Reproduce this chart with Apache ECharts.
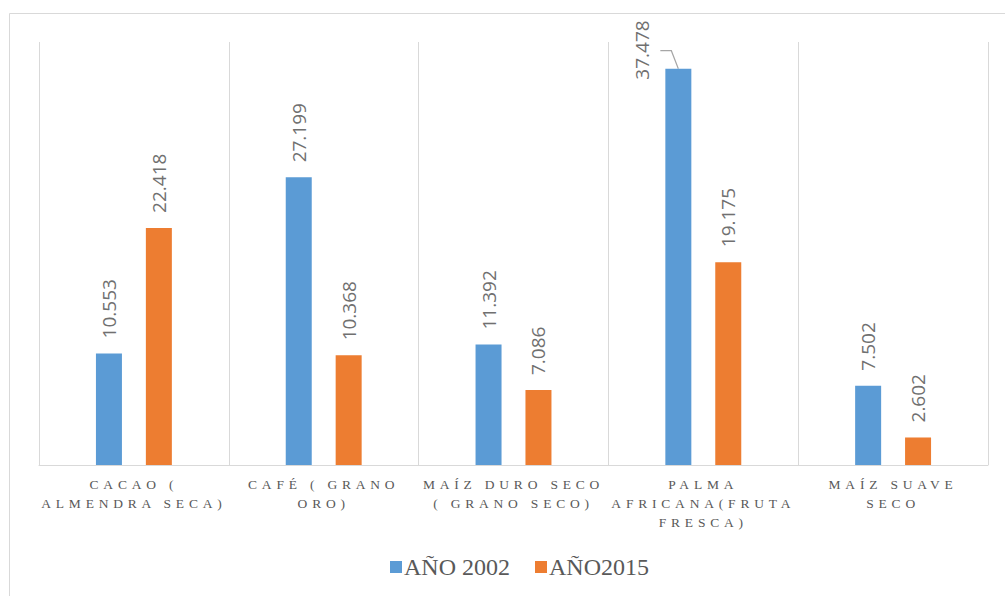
<!DOCTYPE html>
<html>
<head>
<meta charset="utf-8">
<script src="https://cdn.jsdelivr.net/npm/echarts@6/dist/echarts.min.js"></script>
<style>
html,body{margin:0;padding:0;background:#fff;}
#chart{width:1005px;height:596px;}
#chart svg text[style*="13.5px"]{letter-spacing:4.8px;}
</style>
</head>
<body>
<div id="chart"></div>
<script>
const categories = [
  "CACAO (\nALMENDRA SECA)",
  "CAFÉ ( GRANO\nORO)",
  "MAÍZ DURO SECO\n( GRANO SECO)",
  "PALMA\nAFRICANA(FRUTA\nFRESCA)",
  "MAÍZ SUAVE\nSECO"
];
const seriesNames = ["AÑO 2002", "AÑO2015"];
const values2002 = [10.553, 27.199, 11.392, 37.478, 7.502];
const values2015 = [22.418, 10.368, 7.086, 19.175, 2.602];
const movedLabelIndex = 3;

const chart = echarts.init(document.getElementById('chart'), null, {renderer: 'svg'});

const labelStyle = {
  show: true,
  position: 'top',
  rotate: 90,
  align: 'left',
  verticalAlign: 'middle',
  distance: 15,
  color: '#707070',
  fontFamily: 'Open Sans',
  fontSize: 19,
  formatter: p => p.value.toFixed(3)
};

const frame = {
  type: 'rect',
  shape: {x: 9.5, y: 13.5, width: 1200, height: 800},
  style: {fill: 'none', stroke: '#d9d9d9', lineWidth: 1},
  silent: true
};

chart.setOption({
  animation: false,
  backgroundColor: '#fff',
  graphic: [frame],
  grid: {left: 39, right: 17, top: 42, bottom: 131},
  legend: {
    bottom: 12,
    left: 385,
    itemWidth: 12,
    itemHeight: 12,
    itemGap: 25,
    icon: 'rect',
    textStyle: {fontFamily: 'Liberation Serif', fontSize: 24, color: '#595959', padding: [0, 0, 0, -3]},
    data: seriesNames
  },
  xAxis: {
    type: 'category',
    data: categories,
    axisLine: {lineStyle: {color: '#d9d9d9', width: 1}},
    axisTick: {show: false},
    splitLine: {show: true, lineStyle: {color: '#d9d9d9', width: 1}},
    axisLabel: {
      interval: 0,
      margin: 10,
      fontFamily: 'Liberation Serif',
      fontSize: 13.5,
      lineHeight: 19,
      color: '#595959'
    }
  },
  yAxis: {
    type: 'value',
    min: 0,
    max: 40,
    show: false,
    splitLine: {show: false}
  },
  series: [
    {
      name: seriesNames[0],
      type: 'bar',
      data: values2002,
      barWidth: 26,
      barGap: '92%',
      itemStyle: {color: '#5b9bd5'},
      label: labelStyle,
      labelLayout: function (p) {
        if (p.dataIndex === movedLabelIndex) {
          return {dx: -26, dy: -36};
        }
        return {};
      }
    },
    {
      name: seriesNames[1],
      type: 'bar',
      data: values2015,
      barWidth: 26,
      itemStyle: {color: '#ed7d31'},
      label: labelStyle
    }
  ]
});

// leader line for the moved label, anchored at the bar's top as laid out by ECharts
(function () {
  const lay = chart.getModel().getSeriesByIndex(0).getData().getItemLayout(movedLabelIndex);
  const cx = lay.x + lay.width / 2;
  const barTop = Math.min(lay.y, lay.y + lay.height);
  chart.setOption({
    graphic: [frame, {
      type: 'polyline',
      shape: {points: [[cx, barTop], [cx - 7, barTop - 18], [cx - 18, barTop - 18]]},
      style: {fill: 'none', stroke: '#a6a6a6', lineWidth: 1.2},
      silent: true
    }]
  });
})();
</script>
</body>
</html>
